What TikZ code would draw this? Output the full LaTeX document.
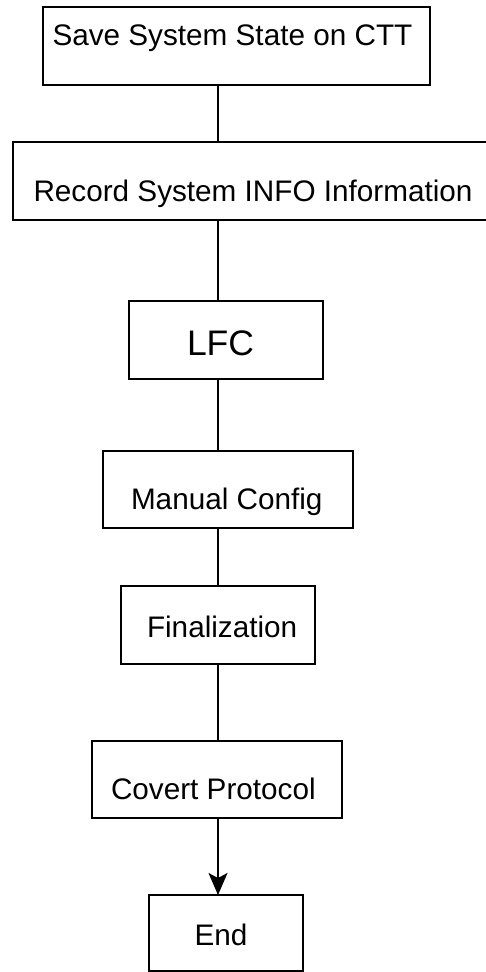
\documentclass[tikz,border=0pt]{standalone}
\usepackage{fontspec}
\setmainfont{Liberation Sans}
\usetikzlibrary{arrows.meta}
\begin{document}
\begin{tikzpicture}[x=1pt,y=1pt,
  boxnode/.style={draw=black,line width=2pt,rectangle,inner sep=0pt,outer sep=0pt},
  txt/.style={anchor=base west,inner sep=0pt,outer sep=0pt,font=\fontsize{29.7}{34}\selectfont},
  bigtxt/.style={anchor=base west,inner sep=0pt,outer sep=0pt,font=\fontsize{35.5}{40}\selectfont},
  conn/.style={draw=black,line width=2pt},
  arr/.style={conn,-{Stealth[length=22pt,width=19pt,inset=5pt]}}]
\useasboundingbox (0,0) rectangle (486,-972);
% boxes
\node[boxnode,minimum width=387pt,minimum height=78pt] (b1) at (236.5,-46) {};
\node[boxnode,minimum width=481pt,minimum height=78pt] (b2) at (253.5,-181) {};
\node[boxnode,minimum width=194pt,minimum height=78pt] (b3) at (226,-340) {};
\node[boxnode,minimum width=250pt,minimum height=77pt] (b4) at (228,-489.5) {};
\node[boxnode,minimum width=194pt,minimum height=78pt] (b5) at (218,-625) {};
\node[boxnode,minimum width=250pt,minimum height=77pt] (b6) at (217,-779.5) {};
\node[boxnode,minimum width=154pt,minimum height=76pt] (b7) at (226,-933) {};
% texts
\node[txt] (t1) at (52.5,-45) {Save System State on CTT};
\node[txt] (t2) at (33.5,-201) {Record System INFO Information};
\node[bigtxt] (t3) at (187,-355) {LFC};
\node[txt] (t4) at (131,-509) {Manual Config};
\node[txt] (t5) at (147,-637) {Finalization};
\node[txt] (t6) at (111,-799) {Covert Protocol};
\node[txt] (t7) at (194.5,-945) {End};
% connector axis
\coordinate (ax) at (218,0);
\draw[conn] (b1.south -| ax) -- (b2.north -| ax);
\draw[conn] (b2.south -| ax) -- (b3.north -| ax);
\draw[conn] (b3.south -| ax) -- (b4.north -| ax);
\draw[conn] (b4.south -| ax) -- (b5.north -| ax);
\draw[conn] (b5.south -| ax) -- (b6.north -| ax);
\draw[arr] (b6.south -| ax) -- (b7.north -| ax);
\end{tikzpicture}
\end{document}
